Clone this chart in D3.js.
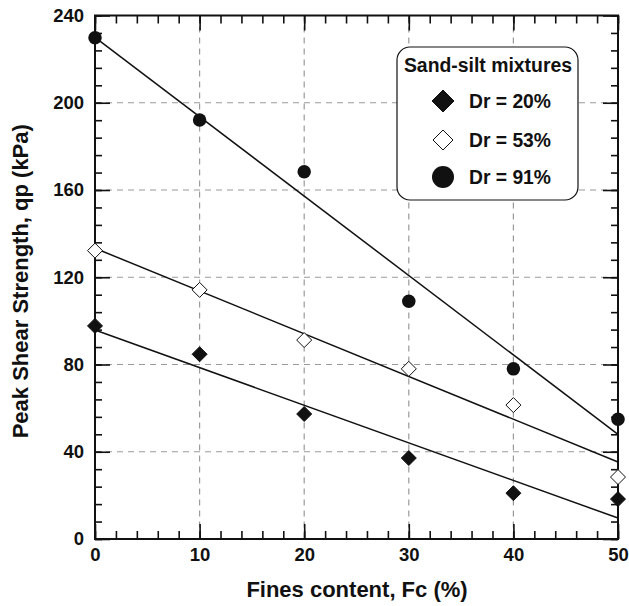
<!DOCTYPE html>
<html>
<head>
<meta charset="utf-8">
<script src="https://cdn.jsdelivr.net/npm/d3@7"></script>
<style>
  html, body { margin: 0; padding: 0; background: #fff; }
  svg text { font-family: "Liberation Sans", Arial, sans-serif; font-weight: bold; fill: #111; }
</style>
</head>
<body>
<svg id="chart" width="629" height="606"></svg>
<script>
// Fines content (%) at which each mixture was tested
const finesContent = [0, 10, 20, 30, 40, 50];

// Peak shear strength qp (kPa) for each relative density
const qpDr20 = [97.7, 84.7, 57.3, 37.1, 21.0, 18.3];
const qpDr53 = [132.2, 114.2, 91.2, 78.0, 61.4, 28.4];
const qpDr91 = [229.8, 192.1, 168.4, 109.0, 78.0, 54.9];

// Linear trend lines: [qp at Fc = 0, qp at Fc = 50]
const trendDr20 = [95.8, 9.6];
const trendDr53 = [133.3, 35.3];
const trendDr91 = [230.0, 48.0];

const seriesNames = ["Dr = 20%", "Dr = 53%", "Dr = 91%"];
const xTicks = [0, 10, 20, 30, 40, 50];
const yTicks = [0, 40, 80, 120, 160, 200, 240];
const legendTitle = "Sand-silt mixtures";
const xTitle = "Fines content, Fc (%)";
const yTitle = "Peak Shear Strength, qp (kPa)";

const svg = d3.select("#chart");
const m = { left: 95, right: 618, top: 15.5, bottom: 539 };

const x = d3.scaleLinear().domain([0, 50]).range([m.left, m.right]);
const y = d3.scaleLinear().domain([0, 240]).range([m.bottom, m.top]);

// dashed grid at major ticks
const grid = svg.append("g").attr("stroke", "#9a9a9a").attr("stroke-width", 1.2)
  .attr("stroke-dasharray", "6,5");
xTicks.slice(1, -1).forEach(v => grid.append("line")
  .attr("x1", x(v)).attr("x2", x(v)).attr("y1", m.top).attr("y2", m.bottom));
yTicks.slice(1, -1).forEach(v => grid.append("line")
  .attr("x1", m.left).attr("x2", m.right).attr("y1", y(v)).attr("y2", y(v)));

// axes on all four sides, ticks pointing inward
const minorX = d3.range(0, 50.01, 2);
const minorY = d3.range(0, 240.01, 8);
function styleAxis(g) {
  g.select(".domain").remove();
  g.selectAll(".tick line").attr("stroke", "#111").attr("stroke-width", 1.6);
}
function styleLabels(g) {
  g.selectAll("text").attr("font-size", 18.5).attr("fill", "#111")
    .attr("font-family", "Liberation Sans, Arial, sans-serif").attr("font-weight", "bold");
}
svg.append("g").attr("transform", `translate(0,${m.bottom})`)
  .call(d3.axisBottom(x).tickValues(minorX).tickSize(-8).tickFormat(""))
  .call(styleAxis);
svg.append("g").attr("transform", `translate(0,${m.bottom})`)
  .call(d3.axisBottom(x).tickValues(xTicks).tickSize(-15).tickPadding(9).tickFormat(d3.format("d")))
  .call(styleAxis).call(styleLabels);
svg.append("g").attr("transform", `translate(0,${m.top})`)
  .call(d3.axisTop(x).tickValues(minorX).tickSize(-8).tickFormat(""))
  .call(styleAxis);
svg.append("g").attr("transform", `translate(0,${m.top})`)
  .call(d3.axisTop(x).tickValues(xTicks).tickSize(-15).tickFormat(""))
  .call(styleAxis);
svg.append("g").attr("transform", `translate(${m.left},0)`)
  .call(d3.axisLeft(y).tickValues(minorY).tickSize(-7).tickFormat(""))
  .call(styleAxis);
svg.append("g").attr("transform", `translate(${m.left},0)`)
  .call(d3.axisLeft(y).tickValues(yTicks).tickSize(-15).tickPadding(11).tickFormat(d3.format("d")))
  .call(styleAxis).call(styleLabels);
svg.append("g").attr("transform", `translate(${m.right},0)`)
  .call(d3.axisRight(y).tickValues(minorY).tickSize(-7).tickFormat(""))
  .call(styleAxis);
svg.append("g").attr("transform", `translate(${m.right},0)`)
  .call(d3.axisRight(y).tickValues(yTicks).tickSize(-15).tickFormat(""))
  .call(styleAxis);

// frame
svg.append("rect").attr("x", m.left).attr("y", m.top)
  .attr("width", m.right - m.left).attr("height", m.bottom - m.top)
  .attr("fill", "none").attr("stroke", "#111").attr("stroke-width", 2);

// trend lines
const lineGen = d3.line().x(d => x(d[0])).y(d => y(d[1]));
[trendDr20, trendDr53, trendDr91].forEach(t => {
  svg.append("path").datum([[0, t[0]], [50, t[1]]])
    .attr("d", lineGen).attr("fill", "none").attr("stroke", "#111").attr("stroke-width", 1.5);
});

// markers: filled diamond, open diamond, filled circle
function drawMarker(g, kind, cx, cy, s) {
  if (kind === "circle") {
    g.append("circle").attr("cx", cx).attr("cy", cy).attr("r", s / 2).attr("fill", "#111");
  } else {
    const h = s / 2;
    g.append("path")
      .attr("d", `M${cx},${cy - h}L${cx + h},${cy}L${cx},${cy + h}L${cx - h},${cy}Z`)
      .attr("fill", kind === "filled" ? "#111" : "#fff")
      .attr("stroke", "#111").attr("stroke-width", 1);
  }
}
const kinds = ["filled", "open", "circle"];
const sizes = [15, 15, 13.5];
[qpDr20, qpDr53, qpDr91].forEach((vals, i) => {
  const g = svg.append("g");
  vals.forEach((v, j) => drawMarker(g, kinds[i], x(finesContent[j]), y(v), sizes[i]));
});

// legend
const lg = svg.append("g");
lg.append("rect").attr("x", 397).attr("y", 47).attr("width", 181).attr("height", 153)
  .attr("rx", 13).attr("fill", "#fff").attr("stroke", "#111").attr("stroke-width", 1.2);
lg.append("text").attr("x", 488).attr("y", 72).attr("text-anchor", "middle")
  .attr("font-size", 19.4).text(legendTitle);
const legendY = [101, 140, 177];
const legendSizes = [22, 20, 22];
seriesNames.forEach((name, i) => {
  drawMarker(lg, kinds[i], 443, legendY[i], legendSizes[i]);
  lg.append("text").attr("x", 469).attr("y", legendY[i] + 7).attr("font-size", 19.3).text(name);
});

// axis titles
svg.append("text").attr("x", 357).attr("y", 597).attr("text-anchor", "middle")
  .attr("font-size", 22).text(xTitle);
svg.append("text").attr("transform", `translate(28,${(m.top + m.bottom) / 2 + 4}) rotate(-90)`)
  .attr("text-anchor", "middle").attr("font-size", 22).text(yTitle);
</script>
</body>
</html>
